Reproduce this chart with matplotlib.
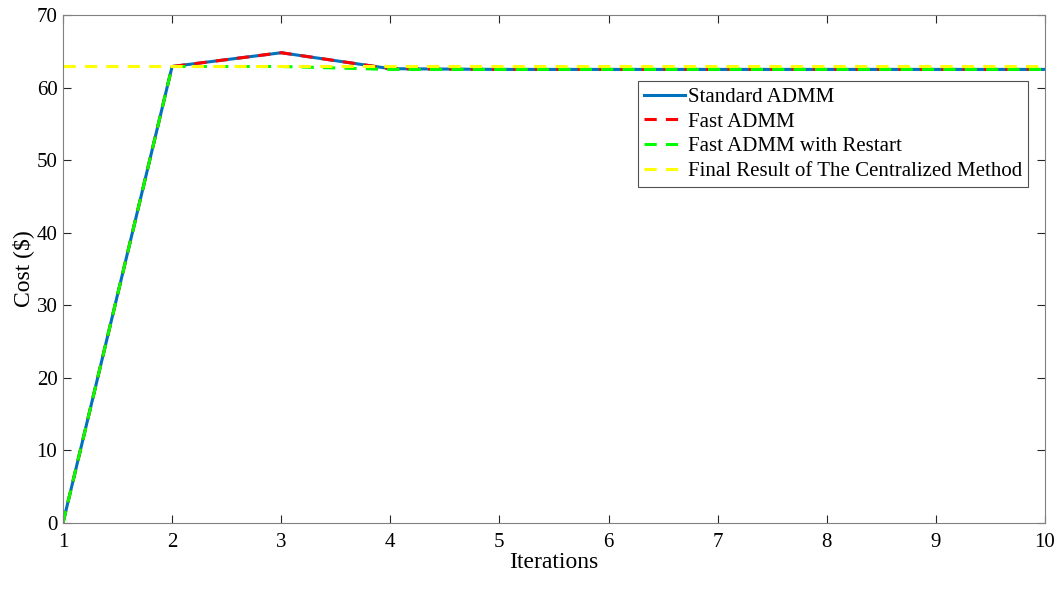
import numpy as np
import matplotlib.pyplot as plt

plt.rcParams['font.family'] = ['Liberation Serif', 'DejaVu Serif']

iters = np.arange(1, 11)
cost_std = [0, 62.9, 64.8, 62.6, 62.5, 62.5, 62.5, 62.5, 62.5, 62.5]
cost_fast = [0, 62.9, 64.8, 62.6, 62.5, 62.5, 62.5, 62.5, 62.5, 62.5]
cost_restart = [0, 62.9, 62.9, 62.5, 62.5, 62.5, 62.5, 62.5, 62.5, 62.5]
cost_central = 63.0

fig = plt.figure(figsize=(10.62, 5.9), dpi=100)
ax = fig.add_axes([0.0593, 0.1136, 0.9247, 0.861])

ax.plot(iters, cost_std, color=(0, 0.447, 0.741), lw=2.2, label='Standard ADMM')
ax.plot(iters, cost_fast, color='red', lw=2.2, ls=(0, (4, 3)), label='Fast ADMM')
ax.plot(iters, cost_restart, color=(0, 1, 0), lw=2.2, ls=(0, (4, 3)),
        label='Fast ADMM with Restart')
ax.plot(iters, [cost_central] * len(iters), color=(1, 1, 0), lw=2.2, ls=(0, (4, 3)),
        label='Final Result of The Centralized Method')

ax.set_xlim(1, 10)
ax.set_ylim(0, 70)
ax.set_xticks(iters)
ax.set_yticks(np.arange(0, 71, 10))
ax.tick_params(direction='in', top=True, right=True, labelsize=15, length=6,
               color='#262626', width=0.8, pad=4)
ax.tick_params(axis='x', pad=7)
for s in ax.spines.values():
    s.set_color('#808080')
    s.set_linewidth(0.8)
ax.set_xlabel('Iterations', fontsize=17, labelpad=0)
ax.set_ylabel('Cost ($)', fontsize=17, labelpad=2)

leg = ax.legend(loc='upper right', bbox_to_anchor=(1028 / 1062, 1 - 81 / 590),
                bbox_transform=fig.transFigure, fontsize=15, frameon=True,
                fancybox=False, edgecolor='#262626', handlelength=2.0,
                handletextpad=0.1, borderpad=0.3, labelspacing=0.25,
                borderaxespad=0)
leg.get_frame().set_linewidth(0.8)

fig.savefig('out.png', dpi=100)
